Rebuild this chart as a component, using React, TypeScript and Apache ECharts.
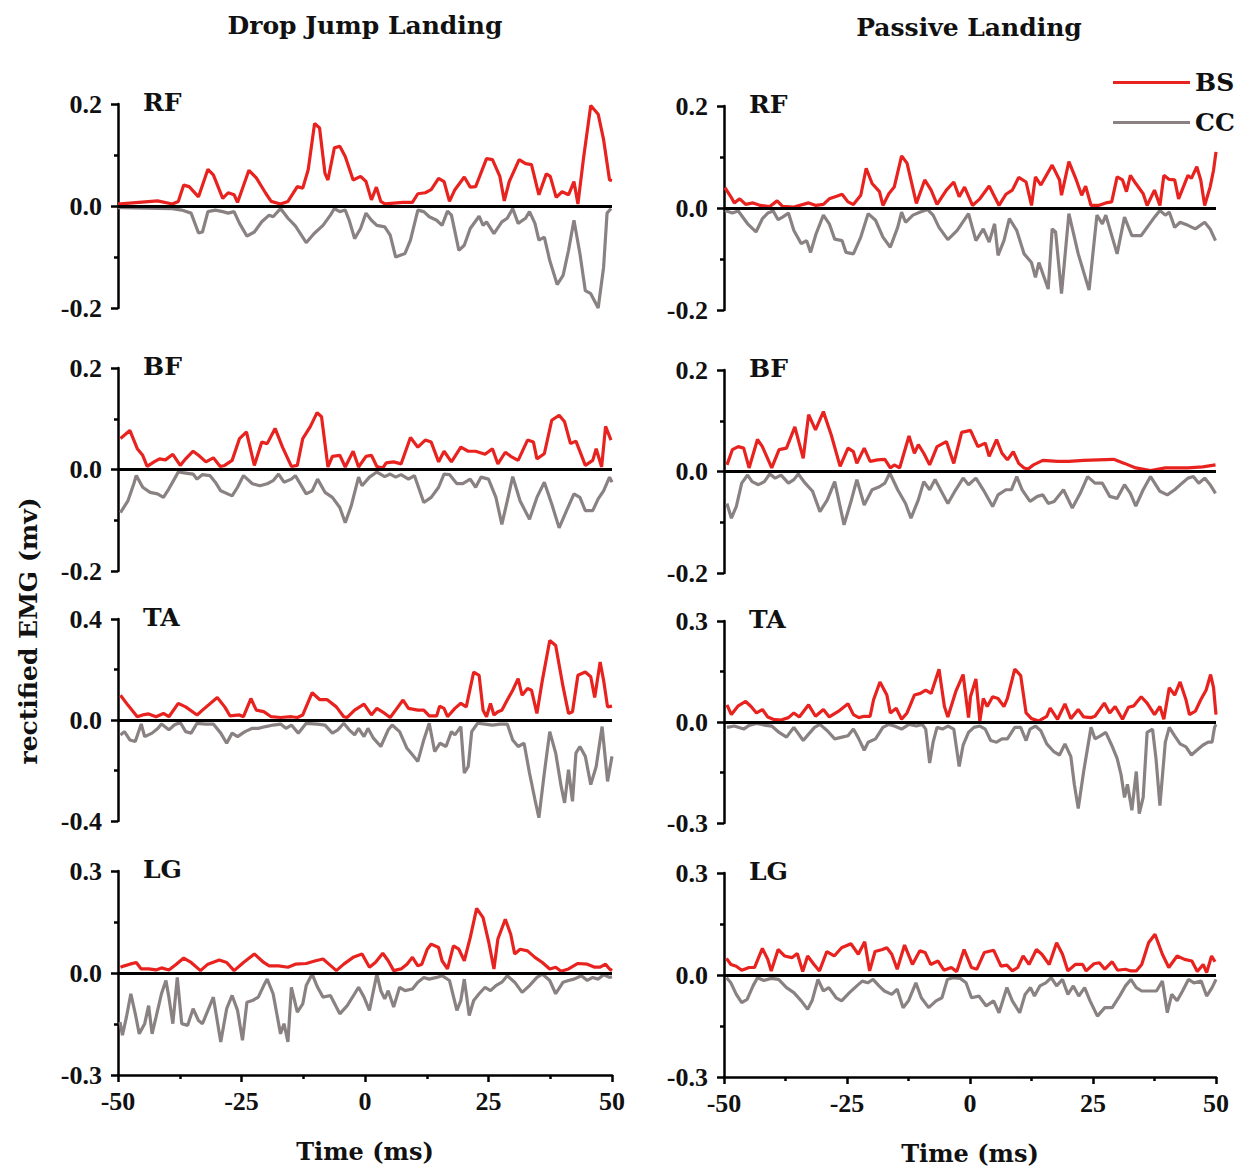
import React, { useEffect, useRef } from "react";
import * as echarts from "echarts";

// ---------- data: [time (ms), rectified EMG (mV)] ----------
const DJ_RF_BS: number[][] = [[-50,0.004],[-49.5,0.004],[-42,0.01],[-39,0.004],[-37.8,0.009],[-36.7,0.041],[-35.6,0.038],[-33.7,0.018],[-31.8,0.072],[-30.7,0.061],[-28.8,0.015],[-27.7,0.026],[-26.5,0.022],[-25.8,0.007],[-23.5,0.07],[-22,0.055],[-20.1,0.025],[-19,0.009],[-17.1,0.004],[-15.6,0.009],[-13.7,0.038],[-12.6,0.035],[-11.5,0.071],[-10.2,0.162],[-9.2,0.153],[-8.1,0.064],[-7.5,0.051],[-6.2,0.114],[-5.1,0.117],[-4,0.097],[-2.4,0.051],[-0.9,0.058],[0.2,0.048],[1.3,0.012],[2.3,0.037],[3.2,0.009],[4,0.004],[7.7,0.007],[9.6,0.007],[10.7,0.024],[12.2,0.026],[13.4,0.032],[14.9,0.054],[16,0.048],[17.1,0.009],[18.2,0.032],[20.1,0.057],[21.3,0.037],[22.4,0.038],[24.6,0.093],[25.8,0.091],[27.3,0.058],[28.2,0.01],[29.2,0.048],[31.2,0.091],[32.5,0.083],[33.7,0.081],[35.2,0.022],[36.7,0.063],[37.5,0.058],[38.7,0.017],[39.9,0.028],[41.2,0.022],[42.3,0.048],[43.1,0.004],[44.2,0.091],[45.7,0.197],[47.2,0.18],[48.3,0.13],[49.5,0.051],[50,0.05]];
const DJ_RF_CC: number[][] = [[-50,-0.003],[-49.5,-0.003],[-39,-0.005],[-37.1,-0.008],[-35.2,-0.014],[-33.7,-0.053],[-32.9,-0.051],[-31.8,-0.011],[-30.3,-0.008],[-28.8,-0.011],[-27.7,-0.014],[-26.5,-0.011],[-25.4,-0.034],[-23.9,-0.059],[-22.4,-0.051],[-20.9,-0.031],[-19.4,-0.018],[-18.6,-0.021],[-17.1,-0.005],[-15.6,-0.024],[-14.1,-0.039],[-11.9,-0.072],[-10.3,-0.054],[-8.5,-0.038],[-7,-0.018],[-6.2,-0.005],[-5.1,-0.011],[-4,-0.008],[-3.2,-0.028],[-2.1,-0.064],[-0.9,-0.044],[0.2,-0.014],[1.3,-0.028],[2.4,-0.038],[4,-0.041],[5.1,-0.057],[6.2,-0.1],[8.1,-0.093],[9.2,-0.067],[10.7,-0.008],[11.9,-0.011],[13,-0.021],[14.5,-0.028],[15.6,-0.038],[16.7,-0.01],[17.5,-0.018],[19,-0.087],[20.1,-0.077],[21.3,-0.044],[23.1,-0.02],[23.9,-0.038],[24.6,-0.031],[26.1,-0.054],[27.7,-0.031],[28.8,-0.024],[29.9,-0.005],[31,-0.034],[32.5,-0.024],[33.3,-0.011],[34.4,-0.034],[35.2,-0.067],[36.3,-0.061],[37.4,-0.107],[38.9,-0.154],[40.1,-0.136],[41.2,-0.087],[42.3,-0.028],[43.5,-0.093],[44.6,-0.166],[45.7,-0.172],[47.2,-0.2],[48.3,-0.12],[49,-0.014],[49.8,-0.005]];
const PL_RF_BS: number[][] = [[-49.8,0.04],[-48.6,0.022],[-47.9,0.01],[-46.8,0.018],[-45.6,0.007],[-44.1,0.01],[-42.6,0.005],[-40.7,0.003],[-39.2,0.014],[-38.1,0.003],[-35.8,0.002],[-32.8,0.01],[-31.3,0.005],[-29.8,0.007],[-28.6,0.018],[-27.1,0.023],[-26,0.027],[-24.8,0.012],[-23.7,0.007],[-22.2,0.025],[-21.1,0.078],[-19.9,0.048],[-18.4,0.032],[-17.7,0.005],[-16.5,0.028],[-15.4,0.041],[-13.9,0.102],[-12.8,0.088],[-10.9,0.009],[-9.2,0.055],[-7.9,0.035],[-6.7,0.007],[-4.8,0.035],[-3.3,0.051],[-2.2,0.022],[-1.1,0.041],[0.5,0.005],[2,0.018],[3.9,0.043],[5,0.022],[5.9,0.005],[7.3,0.027],[8.6,0.035],[9.9,0.06],[11.4,0.051],[12.5,0.005],[13.3,0.061],[14.4,0.045],[16.7,0.084],[18.2,0.055],[18.6,0.025],[20.1,0.091],[21.6,0.055],[22.7,0.025],[23.5,0.043],[24.6,0.005],[26.1,0.005],[27.6,0.01],[28.8,0.012],[29.9,0.061],[31,0.055],[31.8,0.032],[32.6,0.064],[33.7,0.048],[35.2,0.028],[36,0.005],[37.5,0.035],[38.6,0.005],[39.4,0.064],[40.5,0.056],[41.6,0.055],[42.4,0.018],[44.3,0.064],[45,0.058],[46.1,0.081],[46.9,0.055],[47.7,0.005],[48.8,0.041],[49.5,0.074],[50,0.11]];
const PL_RF_CC: number[][] = [[-49.8,-0.005],[-48.3,-0.01],[-47.1,-0.006],[-45.2,-0.031],[-43.5,-0.047],[-42.2,-0.021],[-41.1,-0.01],[-40,-0.006],[-39,-0.023],[-38.1,-0.018],[-36.9,-0.01],[-35.8,-0.044],[-34.3,-0.07],[-33.2,-0.064],[-32.4,-0.087],[-31.3,-0.051],[-29.8,-0.014],[-28.6,-0.031],[-27.5,-0.061],[-26,-0.064],[-25.2,-0.087],[-23.7,-0.09],[-22.2,-0.057],[-20.7,-0.011],[-19.2,-0.024],[-17.7,-0.057],[-16.2,-0.077],[-14.7,-0.038],[-13.9,-0.008],[-13.1,-0.028],[-11.6,-0.014],[-10.1,-0.008],[-8.6,-0.003],[-7.5,-0.014],[-6.3,-0.038],[-4.5,-0.062],[-2.6,-0.044],[-0.3,-0.011],[1.2,-0.064],[2.7,-0.041],[3.9,-0.067],[5,-0.031],[5.7,-0.093],[6.9,-0.064],[8,-0.021],[9.5,-0.044],[11,-0.09],[12.5,-0.107],[13.3,-0.136],[14,-0.107],[15.9,-0.159],[16.7,-0.041],[17.4,-0.047],[18.6,-0.168],[20.1,-0.011],[22,-0.09],[24.2,-0.161],[25.8,-0.014],[26.9,-0.031],[27.6,-0.014],[29.9,-0.09],[31.4,-0.018],[32.9,-0.054],[34.8,-0.054],[36,-0.038],[37.5,-0.018],[38.6,-0.005],[39.7,-0.014],[40.5,-0.008],[41.6,-0.038],[42.7,-0.028],[44.3,-0.034],[45.8,-0.041],[47.7,-0.028],[48.8,-0.041],[49.9,-0.064]];
const DJ_BF_BS: number[][] = [[-49.5,0.061],[-47.6,0.077],[-46.1,0.041],[-45,0.028],[-44.1,0.006],[-42.7,0.015],[-41.6,0.021],[-40.4,0.019],[-38.9,0.03],[-37.4,0.008],[-36.3,0.021],[-34.8,0.036],[-33.7,0.028],[-32.2,0.015],[-30.7,0.023],[-29.3,0.006],[-28.4,0.008],[-26.9,0.018],[-25.4,0.061],[-24,0.074],[-22.4,0.008],[-20.9,0.054],[-19.8,0.051],[-18.2,0.081],[-16.7,0.044],[-14.9,0.006],[-13.7,0.008],[-12.6,0.061],[-11.1,0.084],[-9.7,0.112],[-8.8,0.104],[-7.5,0.005],[-6.6,0.026],[-5.1,0.028],[-4,0.005],[-2.4,0.036],[-1.3,0.005],[0.2,0.026],[1.3,0.028],[2.4,0.006],[3.6,0.003],[4.3,0.013],[5.8,0.015],[7.3,0.011],[9.2,0.063],[10.7,0.044],[12.2,0.058],[13.4,0.054],[14.9,0.015],[16,0.036],[17.5,0.015],[19.4,0.044],[20.9,0.036],[22.4,0.036],[24.3,0.03],[25.8,0.041],[26.9,0.011],[28.4,0.034],[29.5,0.026],[31,0.018],[32.9,0.058],[34.1,0.054],[34.8,0.021],[36.3,0.031],[37.8,0.097],[39.3,0.107],[40.4,0.094],[41.6,0.051],[42.7,0.056],[44.6,0.008],[46.1,0.018],[46.8,0.041],[47.9,0.005],[48.7,0.085],[49.8,0.058]];
const DJ_BF_CC: number[][] = [[-49.5,-0.085],[-48,-0.062],[-46.8,-0.028],[-46.3,-0.012],[-45,-0.035],[-43.5,-0.045],[-42,-0.048],[-40.8,-0.055],[-39.7,-0.038],[-38.6,-0.019],[-37.8,-0.005],[-36.3,-0.007],[-34.8,-0.009],[-34,-0.019],[-32.9,-0.01],[-31.4,-0.012],[-30.3,-0.025],[-29.2,-0.042],[-26.9,-0.052],[-25.8,-0.035],[-24.6,-0.012],[-22.8,-0.028],[-21.3,-0.032],[-19.8,-0.028],[-18.6,-0.022],[-17.5,-0.009],[-16.4,-0.025],[-14.9,-0.019],[-14.1,-0.012],[-11.9,-0.048],[-10.7,-0.042],[-9.6,-0.019],[-8.1,-0.045],[-6.6,-0.055],[-5.1,-0.075],[-4,-0.105],[-2.8,-0.072],[-1.3,-0.015],[-0.6,-0.032],[0.9,-0.015],[2.4,-0.005],[4,-0.014],[5.1,-0.009],[6.2,-0.015],[7.3,-0.01],[8.8,-0.019],[10,-0.012],[11.9,-0.065],[13.4,-0.055],[14.9,-0.035],[16,-0.009],[17.1,-0.01],[18.6,-0.028],[19.8,-0.028],[21.3,-0.019],[22.4,-0.035],[23.5,-0.015],[25,-0.019],[26.5,-0.055],[27.7,-0.108],[28.8,-0.062],[29.9,-0.014],[31.4,-0.062],[33.3,-0.098],[34.8,-0.055],[36.3,-0.025],[37.8,-0.068],[39.3,-0.115],[40.8,-0.081],[42.3,-0.048],[43.5,-0.055],[44.6,-0.081],[46.1,-0.081],[47.2,-0.058],[48.3,-0.042],[49.5,-0.015],[50,-0.025]];
const PL_BF_BS: number[][] = [[-49.4,0.013],[-48.3,0.043],[-47.1,0.049],[-46,0.046],[-44.9,0.007],[-43.2,0.063],[-42.2,0.049],[-40.3,0.007],[-38.8,0.043],[-37.3,0.046],[-35.6,0.088],[-33.9,0.026],[-32.8,0.112],[-31.4,0.082],[-29.8,0.118],[-28.2,0.072],[-26.4,0.01],[-24.8,0.046],[-23.7,0.039],[-23,0.016],[-21.5,0.046],[-20.3,0.02],[-18.8,0.023],[-17.3,0.024],[-16.2,0.007],[-15.4,0.013],[-14.3,0.007],[-12.4,0.07],[-11.3,0.036],[-10.5,0.053],[-9.4,0.036],[-8.2,0.013],[-6.7,0.049],[-4.8,0.059],[-3.3,0.016],[-1.7,0.077],[0.1,0.081],[1.6,0.049],[3.1,0.056],[3.9,0.03],[5.4,0.063],[6.5,0.036],[7.6,0.023],[8.8,0.039],[9.9,0.016],[11,0.007],[11.8,0.005],[12.9,0.013],[14.8,0.022],[17.8,0.02],[20.1,0.02],[23.1,0.022],[26.1,0.023],[29.2,0.024],[31.4,0.016],[33.7,0.007],[36.7,0.002],[39.7,0.007],[44.3,0.007],[47.3,0.009],[49.9,0.013]];
const PL_BF_CC: number[][] = [[-49.4,-0.063],[-48.5,-0.092],[-47.5,-0.069],[-46.4,-0.023],[-45.2,-0.007],[-44.3,-0.02],[-43,-0.026],[-41.8,-0.02],[-40.7,-0.005],[-39.6,-0.013],[-38.4,-0.007],[-36.9,-0.023],[-35.8,-0.016],[-34.9,-0.005],[-33.5,-0.023],[-32,-0.039],[-30.5,-0.079],[-29,-0.056],[-27.5,-0.02],[-25.6,-0.105],[-24.1,-0.056],[-23,-0.016],[-21.5,-0.066],[-19.9,-0.036],[-18.4,-0.03],[-17.3,-0.023],[-16.3,-0.003],[-14.7,-0.036],[-13.1,-0.063],[-12,-0.092],[-10.5,-0.056],[-9.4,-0.02],[-8.2,-0.036],[-7.1,-0.016],[-6,-0.036],[-4.5,-0.063],[-2.9,-0.036],[-1.4,-0.013],[-0.3,-0.026],[1.2,-0.013],[2.7,-0.036],[4.6,-0.069],[5.7,-0.046],[7.3,-0.036],[8.4,-0.036],[9.5,-0.01],[10.6,-0.036],[12.2,-0.059],[13.7,-0.049],[14.8,-0.046],[15.9,-0.063],[17.1,-0.059],[19,-0.036],[20.8,-0.072],[22.4,-0.043],[23.9,-0.01],[25.4,-0.023],[26.9,-0.023],[28.4,-0.049],[29.9,-0.053],[31.4,-0.026],[32.6,-0.043],[33.7,-0.068],[35.2,-0.036],[36.7,-0.01],[38.6,-0.039],[40.1,-0.046],[41.6,-0.036],[43.1,-0.023],[44.3,-0.013],[45.4,-0.01],[46.5,-0.023],[47.7,-0.013],[48.8,-0.026],[49.9,-0.043]];
const DJ_TA_BS: number[][] = [[-49.5,0.098],[-48,0.059],[-46.1,0.013],[-45,0.02],[-43.8,0.024],[-42.3,0.013],[-40.8,0.026],[-39.7,0.013],[-37.8,0.066],[-36.3,0.052],[-34,0.02],[-32.9,0.039],[-29.9,0.089],[-28.4,0.052],[-27.3,0.016],[-25.4,0.02],[-24.6,0.013],[-23.1,0.085],[-22,0.039],[-20.5,0.033],[-19,0.013],[-17.1,0.01],[-14.9,0.013],[-13.7,0.01],[-12.6,0.02],[-10.7,0.108],[-9.2,0.081],[-7.7,0.081],[-5.8,0.052],[-4.3,0.013],[-3.6,0.01],[-2.1,0.039],[-0.2,0.063],[1.3,0.02],[2.4,0.046],[4,0.026],[5.1,0.01],[6.2,0.039],[7.7,0.079],[8.8,0.046],[10.7,0.039],[11.9,0.039],[13,0.016],[14.5,0.016],[15.1,0.055],[16,0.046],[16.7,0.013],[18.2,0.046],[19.4,0.066],[20.5,0.052],[22,0.19],[23.1,0.177],[23.9,0.039],[24.6,0.013],[25.4,0.066],[26.1,0.02],[26.9,0.033],[27.7,0.039],[28.8,0.079],[29.9,0.118],[31,0.164],[31.8,0.098],[32.9,0.125],[33.7,0.118],[34.8,0.026],[35.9,0.157],[37.4,0.315],[38.6,0.295],[40.1,0.131],[41.2,0.026],[42,0.033],[43.1,0.177],[44.6,0.19],[45.7,0.171],[46.5,0.089],[47.6,0.23],[48.3,0.157],[49.1,0.052],[50,0.055]];
const DJ_TA_CC: number[][] = [[-49.5,-0.059],[-48.7,-0.046],[-47.6,-0.079],[-46.5,-0.085],[-45.3,-0.016],[-44.6,-0.066],[-43.1,-0.052],[-41.9,-0.033],[-41.2,-0.016],[-39.7,-0.039],[-38.6,-0.02],[-37.4,-0.01],[-36.3,-0.046],[-35.2,-0.052],[-34,-0.013],[-32.2,-0.016],[-30.7,-0.016],[-29.2,-0.052],[-28,-0.092],[-26.9,-0.052],[-25.8,-0.066],[-24.3,-0.046],[-22.8,-0.033],[-21.6,-0.033],[-20.1,-0.026],[-18.6,-0.02],[-17.1,-0.016],[-16,-0.033],[-14.9,-0.02],[-13.5,-0.052],[-11.9,-0.013],[-9.6,-0.016],[-8.1,-0.02],[-6.6,-0.052],[-5.5,-0.039],[-4.3,-0.013],[-3.2,-0.039],[-2.1,-0.059],[-1.3,-0.033],[-0.2,-0.066],[0.6,-0.033],[1.7,-0.072],[3.2,-0.105],[4.7,-0.039],[5.5,-0.02],[7,-0.046],[8.5,-0.112],[9.6,-0.138],[10.7,-0.164],[11.9,-0.079],[13,-0.013],[14.1,-0.125],[15.2,-0.092],[16.4,-0.105],[17.5,-0.046],[18.2,-0.059],[19.4,-0.026],[20.1,-0.21],[20.9,-0.184],[21.6,-0.046],[22.8,-0.013],[24.3,-0.016],[25.8,-0.02],[27.3,-0.016],[28.8,-0.016],[29.9,-0.079],[31,-0.105],[32.2,-0.092],[33.3,-0.21],[34.4,-0.315],[35.2,-0.387],[36.3,-0.21],[37.4,-0.046],[38.6,-0.131],[39.7,-0.262],[40.4,-0.328],[41.2,-0.197],[42,-0.322],[42.7,-0.131],[43.5,-0.105],[44.6,-0.144],[45.7,-0.256],[46.8,-0.184],[48,-0.026],[49.1,-0.243],[50,-0.144]];
const PL_TA_BS: number[][] = [[-49.4,0.051],[-48.5,0.022],[-47.1,0.048],[-45.6,0.061],[-44.5,0.046],[-43.4,0.027],[-42.2,0.037],[-41.1,0.015],[-40,0.008],[-38.4,0.006],[-36.9,0.013],[-35.8,0.027],[-34.7,0.015],[-32.8,0.051],[-31.4,0.017],[-29.8,0.037],[-28.6,0.015],[-26.7,0.032],[-24.8,0.054],[-23.7,0.022],[-22.6,0.013],[-21.5,0.017],[-20.3,0.017],[-19.6,0.066],[-18.3,0.119],[-16.9,0.08],[-16.2,0.027],[-15,0.041],[-13.9,0.008],[-12.8,0.027],[-11.3,0.08],[-10.1,0.085],[-9,0.095],[-7.9,0.085],[-6.3,0.157],[-5.2,0.046],[-4.5,0.015],[-2.9,0.09],[-1.4,0.141],[-0.3,0.013],[0.1,0.075],[1.2,0.128],[2,0.003],[2.7,0.07],[3.5,0.046],[4.6,0.075],[5.7,0.07],[6.9,0.046],[7.6,0.07],[9.1,0.157],[10.3,0.138],[11.4,0.027],[12.5,0.01],[14,0.003],[15.6,0.017],[16.3,0.041],[17.8,0.008],[19.3,0.054],[20.5,0.01],[22,0.037],[23.1,0.015],[24.6,0.013],[25.4,0.017],[27.3,0.056],[28.4,0.027],[29.5,0.046],[31,0.008],[32.2,0.044],[33.3,0.048],[34.8,0.075],[36,0.056],[37.5,0.022],[38.6,0.046],[39.4,0.008],[40.5,0.102],[41.6,0.08],[42.7,0.119],[43.9,0.066],[44.6,0.022],[45.8,0.032],[46.9,0.066],[48,0.095],[48.9,0.141],[49.5,0.102],[50,0.022]];
const PL_TA_CC: number[][] = [[-49.4,-0.016],[-47.9,-0.012],[-46,-0.021],[-44.9,-0.01],[-43.4,-0.004],[-41.5,-0.01],[-40.3,-0.012],[-38.8,-0.031],[-37.3,-0.045],[-35.8,-0.016],[-33.9,-0.055],[-32.8,-0.036],[-31.6,-0.016],[-30.5,-0.007],[-29,-0.026],[-27.5,-0.05],[-26,-0.045],[-24.8,-0.041],[-23.7,-0.021],[-22.6,-0.05],[-21.5,-0.084],[-20.7,-0.06],[-19.2,-0.05],[-17.7,-0.016],[-16.5,-0.007],[-15.4,-0.012],[-13.9,-0.021],[-12.4,-0.007],[-10.9,-0.012],[-9.7,-0.007],[-9,-0.021],[-8.2,-0.122],[-7.5,-0.06],[-6.7,-0.016],[-5.6,-0.021],[-4.5,-0.012],[-3.3,-0.021],[-2.2,-0.132],[-1.4,-0.069],[-0.3,-0.031],[0.8,-0.016],[2,-0.012],[3.1,-0.021],[4.2,-0.055],[5.4,-0.06],[6.5,-0.05],[7.6,-0.05],[9.1,-0.016],[10.3,-0.016],[11.4,-0.055],[12.2,-0.021],[13.3,-0.012],[14.4,-0.026],[15.6,-0.065],[17.1,-0.089],[18.2,-0.098],[19.3,-0.065],[20.5,-0.103],[21.2,-0.185],[22,-0.257],[23.1,-0.147],[24.6,-0.016],[25.4,-0.05],[26.5,-0.041],[27.6,-0.031],[28.8,-0.069],[29.9,-0.108],[30.7,-0.156],[31.4,-0.224],[32,-0.185],[32.9,-0.262],[33.8,-0.147],[34.4,-0.272],[35.2,-0.224],[36,-0.031],[37.1,-0.021],[37.8,-0.108],[38.6,-0.248],[39.7,-0.06],[40.5,-0.016],[41.6,-0.041],[42.7,-0.065],[43.9,-0.074],[45,-0.098],[46.1,-0.084],[47.3,-0.069],[48.4,-0.06],[49.2,-0.06],[49.7,-0.016],[50,-0.007]];
const DJ_LG_BS: number[][] = [[-49.5,0.017],[-48.7,0.021],[-47.6,0.026],[-46.3,0.031],[-45.3,0.012],[-43.8,0.012],[-42.3,0.009],[-41.2,0.015],[-39.7,0.009],[-38.2,0.026],[-36.7,0.044],[-35.2,0.031],[-33.3,0.007],[-31.8,0.026],[-29.5,0.038],[-28,0.031],[-26.5,0.007],[-24.6,0.031],[-22.4,0.056],[-20.5,0.031],[-19.4,0.021],[-17.5,0.021],[-15.6,0.017],[-14.1,0.026],[-11.9,0.028],[-10,0.036],[-8.5,0.041],[-7.3,0.026],[-5.8,0.007],[-4.3,0.026],[-2.4,0.046],[-0.6,0.056],[0.9,0.017],[2.1,0.031],[3.6,0.058],[4.7,0.036],[5.8,0.007],[7.3,0.012],[8.5,0.026],[9.6,0.046],[10.7,0.021],[11.5,0.026],[12.6,0.07],[13.4,0.085],[14.9,0.075],[15.6,0.036],[16.7,0.012],[17.9,0.08],[19,0.07],[20.1,0.036],[21.3,0.104],[22.6,0.19],[23.9,0.163],[25,0.094],[26.1,0.012],[26.9,0.1],[28.4,0.158],[29.5,0.114],[30.3,0.056],[31.4,0.07],[32.9,0.065],[34.4,0.046],[35.9,0.031],[37.4,0.012],[38.6,0.017],[39.7,0.005],[41.2,0.012],[43.1,0.028],[45,0.026],[46.5,0.017],[47.6,0.017],[48.7,0.026],[49.5,0.012],[50,0.007]];
const DJ_LG_CC: number[][] = [[-49.6,-0.144],[-49.1,-0.183],[-48.3,-0.13],[-47.4,-0.061],[-46.5,-0.12],[-45.7,-0.179],[-44.6,-0.149],[-43.8,-0.096],[-43.1,-0.179],[-42.3,-0.13],[-41.2,-0.061],[-40.3,-0.022],[-39.7,-0.071],[-38.9,-0.149],[-38,-0.013],[-37.1,-0.149],[-35.9,-0.154],[-34.8,-0.105],[-33.7,-0.14],[-32.9,-0.149],[-31.8,-0.11],[-30.7,-0.071],[-29.2,-0.203],[-28,-0.105],[-26.9,-0.066],[-25.8,-0.11],[-24.8,-0.198],[-23.9,-0.086],[-22.8,-0.081],[-21.6,-0.071],[-20.5,-0.037],[-19.8,-0.018],[-18.6,-0.061],[-17.1,-0.179],[-16.4,-0.149],[-15.6,-0.203],[-14.9,-0.042],[-13.7,-0.115],[-12.6,-0.091],[-11.9,-0.037],[-10.7,-0.003],[-9.6,-0.042],[-8.5,-0.071],[-7,-0.066],[-5.1,-0.12],[-3.6,-0.096],[-2.1,-0.061],[-1.3,-0.042],[-0.2,-0.071],[0.9,-0.11],[2.4,-0.003],[3.2,-0.052],[4,-0.076],[4.7,-0.052],[5.8,-0.1],[7,-0.042],[8.1,-0.052],[9.6,-0.047],[10.7,-0.027],[11.9,-0.013],[13,-0.018],[14.5,-0.013],[15.6,-0.008],[17.1,-0.022],[18.6,-0.11],[19.4,-0.081],[20.1,-0.018],[21.1,-0.125],[22,-0.081],[23.1,-0.061],[24.3,-0.042],[25.4,-0.052],[26.5,-0.037],[27.7,-0.027],[28.8,-0.008],[30.3,-0.027],[31.8,-0.057],[33.3,-0.037],[34.8,-0.013],[35.9,-0.003],[37.4,-0.022],[38.6,-0.061],[40.1,-0.027],[41.2,-0.022],[42.3,-0.018],[43.8,-0.008],[45,-0.022],[46.1,-0.013],[47.2,-0.018],[48.3,-0.005],[49.5,-0.013],[50,-0.011]];
const PL_LG_BS: number[][] = [[-49.5,0.049],[-48.6,0.031],[-47.5,0.026],[-46.4,0.014],[-44.9,0.022],[-43.8,0.022],[-42.2,0.078],[-41.1,0.046],[-40.4,0.012],[-39,0.075],[-37.7,0.056],[-36.2,0.051],[-35.1,0.063],[-34,0.01],[-33,0.056],[-31.7,0.031],[-30.6,0.012],[-29.1,0.069],[-27.6,0.056],[-26.1,0.08],[-24.2,0.092],[-22.7,0.061],[-21.4,0.098],[-20.4,0.012],[-19.3,0.069],[-17.8,0.075],[-16.9,0.08],[-15.9,0.061],[-14.8,0.017],[-13.3,0.088],[-11.7,0.031],[-10.2,0.071],[-9.1,0.066],[-8,0.031],[-6.5,0.041],[-5.3,0.014],[-3.8,0.022],[-2.7,0.01],[-1.2,0.075],[0.3,0.022],[1.4,0.017],[2.9,0.066],[4.8,0.073],[6.3,0.026],[7.5,0.029],[8.6,0.012],[9.7,0.022],[10.8,0.056],[12,0.031],[13.5,0.075],[14.6,0.061],[16.1,0.031],[17.6,0.095],[18.8,0.061],[19.9,0.012],[21.4,0.031],[22.9,0.031],[23.6,0.012],[25.2,0.033],[26.3,0.036],[27.4,0.017],[28.9,0.039],[30,0.014],[31.6,0.017],[32.7,0.012],[33.8,0.012],[34.9,0.031],[36.3,0.095],[37.6,0.12],[39.1,0.061],[40.4,0.022],[42.1,0.056],[43.6,0.046],[45.1,0.041],[46.2,0.01],[47.4,0.031],[48.1,0.007],[49.1,0.056],[49.8,0.039]];
const PL_LG_CC: number[][] = [[-49.5,-0.008],[-48.6,-0.023],[-47.5,-0.057],[-46.4,-0.081],[-45.3,-0.072],[-44.1,-0.032],[-43.2,-0.008],[-41.9,-0.016],[-40.4,-0.01],[-38.9,-0.013],[-37.3,-0.037],[-35.8,-0.052],[-34.3,-0.076],[-33,-0.101],[-32.1,-0.076],[-30.9,-0.013],[-29.8,-0.047],[-28.7,-0.037],[-27.2,-0.067],[-26.1,-0.076],[-24.5,-0.052],[-23,-0.032],[-21.9,-0.018],[-20.8,-0.023],[-19.7,-0.013],[-18.5,-0.032],[-17.4,-0.047],[-15.9,-0.057],[-14.8,-0.042],[-13.6,-0.096],[-12.5,-0.076],[-11,-0.023],[-9.9,-0.067],[-8.4,-0.096],[-6.9,-0.076],[-5.7,-0.067],[-4.6,-0.013],[-3.5,-0.008],[-2,-0.01],[-0.8,-0.023],[0.3,-0.067],[1.8,-0.062],[3.3,-0.091],[4.8,-0.076],[5.9,-0.111],[7.5,-0.037],[8.6,-0.076],[10.1,-0.111],[11.2,-0.057],[12.3,-0.037],[13.1,-0.062],[14.2,-0.032],[15.4,-0.023],[16.5,-0.008],[17.6,-0.032],[18.8,-0.013],[19.9,-0.057],[21,-0.032],[22.1,-0.062],[23.3,-0.037],[24.4,-0.076],[25.9,-0.121],[27.4,-0.096],[28.9,-0.096],[30.4,-0.062],[31.6,-0.032],[32.7,-0.013],[33.8,-0.037],[34.9,-0.047],[36.4,-0.047],[37.9,-0.047],[39.1,-0.018],[40.1,-0.111],[41,-0.057],[42.1,-0.076],[43.2,-0.047],[44.4,-0.013],[45.5,-0.023],[47,-0.018],[48.1,-0.062],[49.2,-0.037],[50,-0.013]];

const COLUMN_TITLES = ["Drop Jump Landing", "Passive Landing"];
const MUSCLES = ["RF", "BF", "TA", "LG"];
const DJ_LIMITS = [0.2, 0.2, 0.4, 0.3];
const PL_LIMITS = [0.2, 0.2, 0.3, 0.3];
const X_MIN = -50;
const X_MAX = 50;
const X_STEP = 25;
const SERIES_NAMES = ["BS", "CC"];
const Y_TITLE = "rectified EMG (mv)";
const X_TITLE = "Time (ms)";

const PANEL_DATA = [
  [[DJ_RF_BS, DJ_RF_CC], [DJ_BF_BS, DJ_BF_CC], [DJ_TA_BS, DJ_TA_CC], [DJ_LG_BS, DJ_LG_CC]],
  [[PL_RF_BS, PL_RF_CC], [PL_BF_BS, PL_BF_CC], [PL_TA_BS, PL_TA_CC], [PL_LG_BS, PL_LG_CC]],
];
const LIMITS = [DJ_LIMITS, PL_LIMITS];

// ---------- layout / style ----------
const FONT = "DejaVu Serif";
const TICK_FONT = "Liberation Serif";
const TEXT_COLOR = "#111";
const COLORS = ["#e8231f", "#8a8282"];
const COL_LEFT = [118, 724];
const COL_WIDTH = [494, 492];
const ROW_TOP = [[104, 368, 619, 871], [106, 370, 621, 873]];
const ROW_HEIGHT = [204, 203, 202, 204];

function buildOption() {
  const grid: any[] = [];
  const xAxis: any[] = [];
  const yAxis: any[] = [];
  const series: any[] = [];
  const graphic: any[] = [];
  const axisLineStyle = { color: "#000", width: 2.5 };
  const labelStyle = { fontFamily: TICK_FONT, fontWeight: "bold", fontSize: 26, color: TEXT_COLOR };

  for (let c = 0; c < 2; c++) {
    for (let r = 0; r < 4; r++) {
      const idx = c * 4 + r;
      const lim = LIMITS[c][r];
      const bottom = r === 3;
      grid.push({ left: COL_LEFT[c], top: ROW_TOP[c][r], width: COL_WIDTH[c], height: ROW_HEIGHT[r], containLabel: false });
      xAxis.push({
        type: "value", gridIndex: idx, min: X_MIN, max: X_MAX, interval: X_STEP, show: bottom,
        axisLine: { show: true, onZero: false, lineStyle: axisLineStyle },
        axisTick: { show: true, length: 7, lineStyle: { color: "#000", width: 2.5 } },
        minorTick: { show: true, splitNumber: 2, length: 4, lineStyle: { color: "#000", width: 2.5 } },
        splitLine: { show: false },
        axisLabel: { ...labelStyle, margin: 13 },
        name: bottom ? X_TITLE : "", nameLocation: "middle", nameGap: 64,
        nameTextStyle: { fontFamily: FONT, fontWeight: "bold", fontSize: 24, color: TEXT_COLOR },
      });
      yAxis.push({
        type: "value", gridIndex: idx, min: -lim, max: lim, interval: lim,
        axisLine: { show: true, onZero: false, lineStyle: axisLineStyle },
        axisTick: { show: true, length: 7, lineStyle: { color: "#000", width: 2.5 } },
        minorTick: { show: true, splitNumber: 2, length: 4, lineStyle: { color: "#000", width: 2.5 } },
        splitLine: { show: false },
        axisLabel: { ...labelStyle, margin: 16, formatter: (v: number) => (Math.abs(v) < 1e-9 ? "0.0" : v.toFixed(1)) },
      });
      const pair = PANEL_DATA[c][r];
      for (let s = 0; s < 2; s++) {
        series.push({
          type: "line", name: SERIES_NAMES[s], xAxisIndex: idx, yAxisIndex: idx,
          data: pair[s], showSymbol: false, symbol: "none", z: s === 0 ? 3 : 2,
          lineStyle: { color: COLORS[s], width: 3.2 }, itemStyle: { color: COLORS[s] },
          emphasis: { disabled: true }, silent: true,
          markLine: s === 0 ? {
            silent: true, symbol: ["none", "none"], label: { show: false },
            lineStyle: { color: "#000", width: 3, type: "solid" },
            emphasis: { disabled: true },
            data: [{ yAxis: 0 }],
          } : undefined,
        });
      }
      graphic.push({
        type: "text", left: COL_LEFT[c] + 25, top: ROW_TOP[c][r] - 14,
        style: { text: MUSCLES[r], fontFamily: FONT, fontWeight: "bold", fontSize: 25, fill: TEXT_COLOR },
      });
    }
  }

  graphic.push(
    { type: "text", x: 365, y: 25, style: { text: COLUMN_TITLES[0], align: "center", verticalAlign: "middle", fontFamily: FONT, fontWeight: "bold", fontSize: 25, fill: TEXT_COLOR } },
    { type: "text", x: 969, y: 27, style: { text: COLUMN_TITLES[1], align: "center", verticalAlign: "middle", fontFamily: FONT, fontWeight: "bold", fontSize: 25, fill: TEXT_COLOR } },
    { type: "text", x: 28, y: 631, rotation: Math.PI / 2, style: { text: Y_TITLE, align: "center", verticalAlign: "middle", fontFamily: FONT, fontWeight: "bold", fontSize: 25, fill: TEXT_COLOR } },
  );

  return {
    animation: false,
    backgroundColor: "#fff",
    grid, xAxis, yAxis, series, graphic,
    legend: {
      data: SERIES_NAMES, orient: "vertical", left: 1113, top: 70, padding: 0, icon: "rect",
      itemWidth: 77, itemHeight: 3, itemGap: 15, selectedMode: false,
      textStyle: { fontFamily: FONT, fontWeight: "bold", fontSize: 25, color: TEXT_COLOR },
    },
  };
}

export default function App() {
  const ref = useRef<HTMLDivElement>(null);
  useEffect(() => {
    if (!ref.current) return;
    const chart = echarts.init(ref.current, undefined, { renderer: "svg" });
    chart.setOption(buildOption() as any);
    return () => chart.dispose();
  }, []);
  return <div ref={ref} style={{ position: "absolute", left: 0, top: 0, width: 1249, height: 1169, background: "#fff" }} />;
}
